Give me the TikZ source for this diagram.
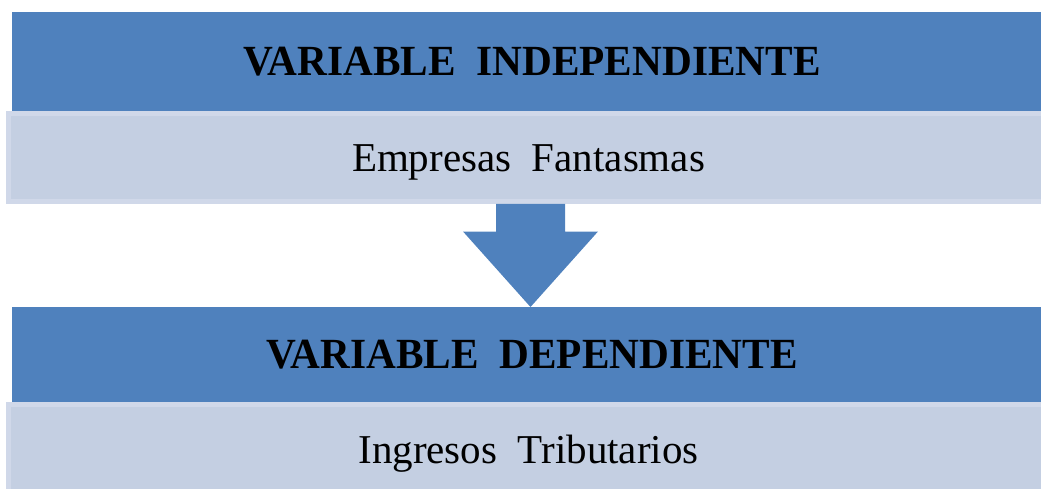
\documentclass[tikz,border=0pt]{standalone}
\usepackage{fontspec}
\setmainfont{Liberation Serif}
\newfontfamily\hdrfont[FakeStretch=0.96]{Liberation Serif}
\usetikzlibrary{positioning,calc}
\definecolor{hdrblue}{RGB}{79,129,189}
\definecolor{bodyfill}{RGB}{196,207,226}
\definecolor{bodyedge}{RGB}{208,216,233}
\begin{document}
\begin{tikzpicture}[x=1pt, y=-1pt,
	hdr/.style={rectangle,fill=hdrblue,anchor=north west,inner sep=0pt,outer sep=0pt,minimum width=1040pt,minimum height=99pt,text height=28pt,text depth=0pt,font=\hdrfont\fontsize{43}{50}\selectfont\bfseries},
	body/.style={rectangle,fill=bodyfill,draw=bodyedge,line width=5pt,inner sep=0pt,outer sep=0pt,minimum width=1040pt,minimum height=88pt,text height=29pt,text depth=0pt,font=\fontsize{41}{48}\selectfont}]
		\useasboundingbox (0,0) rectangle (1041,489);
		% Place nodes
		\node [hdr] (hdrA) at (12,12) {VARIABLE\ \ INDEPENDIENTE};
		\node [body,below=2.5pt of hdrA.south west,anchor=north west,xshift=-3.5pt] (bodyA) {Empresas\ \ Fantasmas};
		\node [hdr,minimum height=95pt] (hdrB) at (12,307) {VARIABLE\ \ DEPENDIENTE};
		\node [body,below=2.5pt of hdrB.south west,anchor=north west,xshift=-3.5pt] (bodyB) {Ingresos\ \ Tributarios};
		% Arrow between the two
		\coordinate [xshift=2pt] (arrtop) at (bodyA.south);
		\fill [hdrblue] ($(arrtop)+(-34.5,2.5)$) -- ($(arrtop)+(-34.5,30)$) -- ($(arrtop)+(-67.5,30)$)
			-- (hdrB.north -| arrtop) -- ($(arrtop)+(67.5,30)$) -- ($(arrtop)+(34.5,30)$)
			-- ($(arrtop)+(34.5,2.5)$) -- cycle;
	\end{tikzpicture}
\end{document}
